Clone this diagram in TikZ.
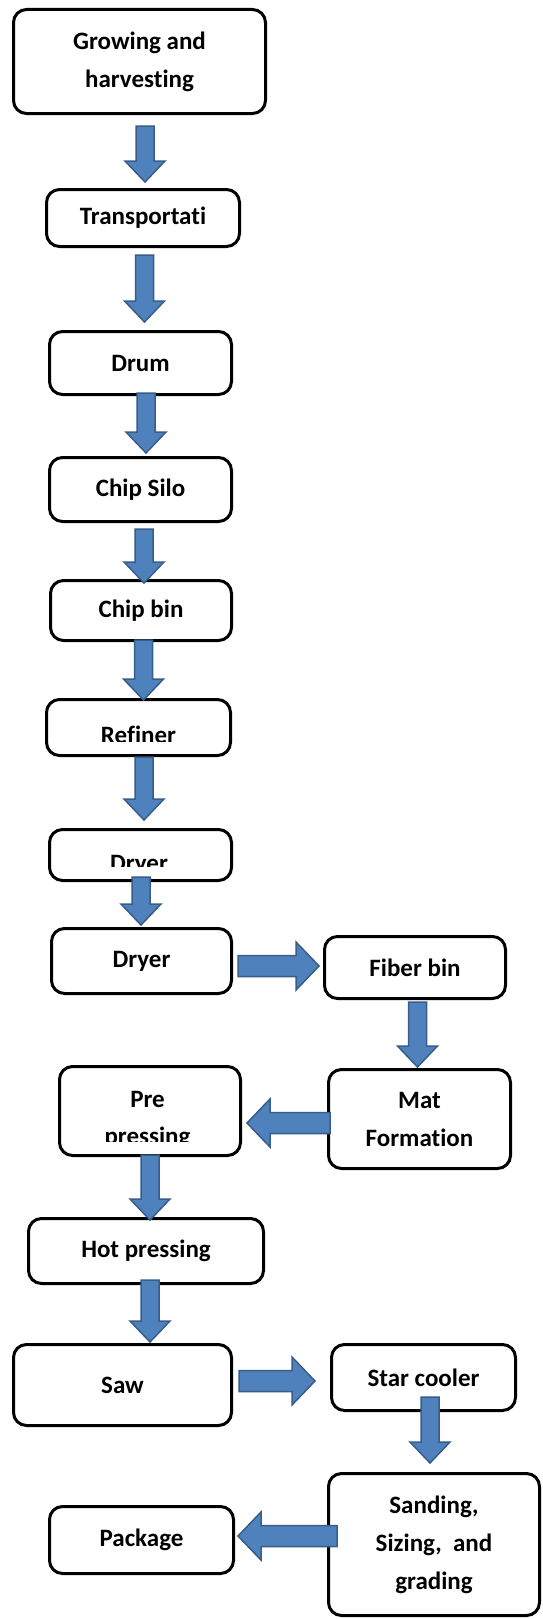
\documentclass[tikz,border=0pt]{standalone}
\usepackage{fontspec}
\setmainfont{Carlito}[Ligatures=NoCommon]
\usetikzlibrary{calc}

\definecolor{arrowfill}{HTML}{4F81BD}
\definecolor{arrowedge}{HTML}{385D8A}

\tikzset{
  stage/.style={draw=black, line width=3pt, rounded corners=13pt, fill=white,
    inner sep=0pt, align=center, font=\fontsize{25}{38}\selectfont\bfseries},
  stagetext/.style={inner sep=0pt, font=\fontsize{25}{38}\selectfont\bfseries},
  flowarrow/.style={fill=arrowfill, draw=arrowedge, line width=1.5pt, line join=miter},
}

% block arrows: #1 = start of the shaft, #2 = point reached by the tip
\newcommand\flowdown[2]{%
  \filldraw[flowarrow] let \p1=#1, \p2=#2 in
    (\x1-9pt,\y1) -- (\x1-9pt,\y2+21pt) -- (\x1-20pt,\y2+21pt) -- (\x1,\y2)
    -- (\x1+20pt,\y2+21pt) -- (\x1+9pt,\y2+21pt) -- (\x1+9pt,\y1) -- cycle;}
\newcommand\flowright[2]{%
  \filldraw[flowarrow] let \p1=#1, \p2=#2 in
    (\x1,\y1+10.5pt) -- (\x2-23pt,\y1+10.5pt) -- (\x2-23pt,\y1+24pt) -- (\x2,\y1)
    -- (\x2-23pt,\y1-24pt) -- (\x2-23pt,\y1-10.5pt) -- (\x1,\y1-10.5pt) -- cycle;}
\newcommand\flowleft[2]{%
  \filldraw[flowarrow] let \p1=#1, \p2=#2 in
    (\x1,\y1+10.5pt) -- (\x2+23pt,\y1+10.5pt) -- (\x2+23pt,\y1+24pt) -- (\x2,\y1)
    -- (\x2+23pt,\y1-24pt) -- (\x2+23pt,\y1-10.5pt) -- (\x1,\y1-10.5pt) -- cycle;}

\begin{document}
\begin{tikzpicture}[x=1pt, y=-1pt]
  \fill[white] (0,0) rectangle (543,1619);
  \useasboundingbox (0,0) rectangle (543,1619);

  % process stages
  \node[stage, minimum width=252pt, minimum height=104pt] (grow)    at (139.5,61.5)  {Growing and\\harvesting};
  \node[stage, minimum width=193pt, minimum height=57pt]  (trans)   at (143,218)     {Transportati};
  \node[stage, minimum width=182pt, minimum height=63pt]  (drum)    at (140.5,363)   {Drum};
  \node[stage, minimum width=182pt, minimum height=64pt]  (silo)    at (140.5,489.5) {Chip Silo};
  \node[stage, minimum width=181pt, minimum height=60pt]  (chipbin) at (141,610.5)   {Chip bin};
  \node[stage, minimum width=184pt, minimum height=56pt]  (refiner) at (138.5,727.5) {};
  \node[stage, minimum width=182pt, minimum height=51pt]  (dryerA)  at (140.5,855)   {};
  \node[stage, minimum width=180pt, minimum height=65pt]  (dryerB)  at (141.5,961)   {Dryer};
  \node[stage, minimum width=181pt, minimum height=62pt]  (fiber)   at (415,967.5)   {Fiber bin};
  \node[stage, minimum width=182pt, minimum height=99pt]  (mat)     at (419.5,1119)  {Mat\\Formation};
  \node[stage, minimum width=181pt, minimum height=89pt]  (pre)     at (150,1111)    {};
  \node[stage, minimum width=235pt, minimum height=65pt]  (hot)     at (146,1251)    {Hot pressing};
  \node[stage, minimum width=218pt, minimum height=81pt]  (saw)     at (122.5,1385)  {Saw};
  \node[stage, minimum width=184pt, minimum height=66pt]  (star)    at (423.5,1377.5){Star cooler};
  \node[stage, minimum width=211pt, minimum height=142pt] (sand)    at (434,1544.5)  {Sanding,\\Sizing,\ \ and\\grading};
  \node[stage, minimum width=184pt, minimum height=67pt]  (package) at (141.5,1540)  {Package};

  % labels cut off by the lower edge of their text areas
  \begin{scope}
    \clip (45,698) rectangle (232,741);
    \node[stagetext, anchor=base] (refinertext) at (138.5,743) {Refiner};
  \end{scope}
  \begin{scope}
    \clip (48,828) rectangle (233,866);
    \node[stagetext, anchor=base] (dryertext) at (139,871) {Dryer};
  \end{scope}
  \begin{scope}
    \clip (58,1065) rectangle (242,1141);
    \node[stagetext, anchor=base] (pretexta) at (147.5,1107) {Pre};
    \node[stagetext, anchor=base] (pretextb) at (147.5,1144) {pressing};
  \end{scope}

  % flow arrows
  \flowdown{([shift={(5.5,11)}]grow.south)}{([shift={(0,-6)}]trans.north)}
  \flowdown{([shift={(1.5,7)}]trans.south)}{([shift={(0,-8)}]drum.north)}
  \flowdown{([shift={(5.5,-3)}]drum.south)}{([shift={(0,-3)}]silo.north)}
  \flowdown{([shift={(3.5,6)}]silo.south)}{([shift={(0,4)}]chipbin.north)}
  \flowdown{([shift={(2.5,-2)}]chipbin.south)}{([shift={(0,2)}]refiner.north)}
  \flowdown{([shift={(5.5,0)}]refiner.south)}{([shift={(0,-8)}]dryerA.north)}
  \flowdown{([shift={(0.5,-5)}]dryerA.south)}{([shift={(0,-2)}]dryerB.north)}
  \flowright{([shift={(5,5)}]dryerB.east)}{([shift={(-4,0)}]fiber.west)}
  \flowdown{([shift={(2.5,2)}]fiber.south)}{([shift={(0,-1)}]mat.north)}
  \flowleft{([shift={(3,4)}]mat.west)}{([shift={(5,0)}]pre.east)}
  \flowdown{([shift={(0,-2)}]pre.south)}{([shift={(0,3)}]hot.north)}
  \flowdown{([shift={(4,-5)}]hot.south)}{([shift={(0,-1)}]saw.north)}
  \flowright{([shift={(6,-4)}]saw.east)}{([shift={(-15,0)}]star.west)}
  \flowdown{([shift={(6.5,-15)}]star.south)}{([shift={(0,-9)}]sand.north)}
  \flowleft{([shift={(10,-8.5)}]sand.west)}{([shift={(3,0)}]package.east)}
\end{tikzpicture}
\end{document}
